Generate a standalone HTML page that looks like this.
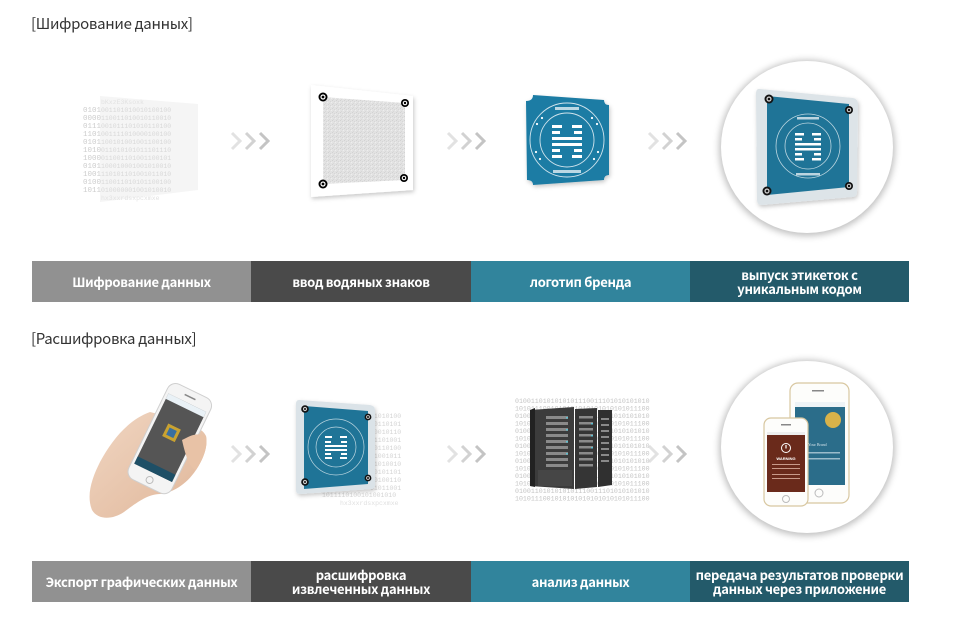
<!DOCTYPE html>
<html><head><meta charset="utf-8">
<style>
html,body{margin:0;padding:0;background:#fff;}
body{width:960px;height:619px;position:relative;overflow:hidden;font-family:"Noto Sans CJK KR","Liberation Sans",sans-serif;}
.t{position:absolute;left:31px;font-size:15px;color:#333;letter-spacing:-0.3px;}
.bar{position:absolute;height:41px;color:#fff;font-weight:bold;font-size:13px;display:flex;align-items:center;justify-content:center;text-align:center;letter-spacing:-0.3px;}
.bar span{display:block;line-height:13.5px;}
.circ{position:absolute;width:172px;height:172px;border-radius:50%;background:#fff;box-shadow:0 1px 7px 2px rgba(0,0,0,.25);}
svg{position:absolute;left:0;top:0;}
</style></head><body>
<div class="t" style="top:13px">[Шифрование данных]</div>
<div class="t" style="top:328px">[Расшифровка данных]</div>

<div class="circ" style="left:721px;top:61px"></div>
<div class="circ" style="left:721px;top:361px"></div>

<svg width="960" height="619" viewBox="0 0 960 619" xmlns="http://www.w3.org/2000/svg">
<defs>
<filter id="sh" x="-20%" y="-20%" width="140%" height="140%"><feDropShadow dx="1" dy="2" stdDeviation="2" flood-color="#000" flood-opacity="0.22"/></filter>
<pattern id="noise" width="4" height="4" patternUnits="userSpaceOnUse"><rect width="4" height="4" fill="#e2e2e2"/><rect x="0" y="0" width="1" height="1" fill="#d2d2d2"/><rect x="2" y="1" width="1" height="1" fill="#d6d6d6"/><rect x="1" y="3" width="1" height="1" fill="#d8d8d8"/><rect x="3" y="2" width="1" height="1" fill="#eeeeee"/></pattern>
<linearGradient id="skin" x1="0" y1="0" x2="1" y2="1"><stop offset="0" stop-color="#f0d6c2"/><stop offset="1" stop-color="#e0b699"/></linearGradient>
</defs>

<!-- chevrons -->
<g fill="none" stroke-width="3" stroke-linecap="butt">
<g transform="translate(232,133)"><polyline points="0,0 8,8 0,16" stroke="#e2e2e2"/><polyline points="14,0 22,8 14,16" stroke="#d2d2d2"/><polyline points="28,0 36,8 28,16" stroke="#c4c4c4"/></g>
<g transform="translate(448,133)"><polyline points="0,0 8,8 0,16" stroke="#e2e2e2"/><polyline points="14,0 22,8 14,16" stroke="#d2d2d2"/><polyline points="28,0 36,8 28,16" stroke="#c4c4c4"/></g>
<g transform="translate(649,133)"><polyline points="0,0 8,8 0,16" stroke="#e2e2e2"/><polyline points="14,0 22,8 14,16" stroke="#d2d2d2"/><polyline points="28,0 36,8 28,16" stroke="#c4c4c4"/></g>
<g transform="translate(232,446)"><polyline points="0,0 8,8 0,16" stroke="#e2e2e2"/><polyline points="14,0 22,8 14,16" stroke="#d2d2d2"/><polyline points="28,0 36,8 28,16" stroke="#c4c4c4"/></g>
<g transform="translate(448,446)"><polyline points="0,0 8,8 0,16" stroke="#e2e2e2"/><polyline points="14,0 22,8 14,16" stroke="#d2d2d2"/><polyline points="28,0 36,8 28,16" stroke="#c4c4c4"/></g>
<g transform="translate(649,446)"><polyline points="0,0 8,8 0,16" stroke="#e2e2e2"/><polyline points="14,0 22,8 14,16" stroke="#d2d2d2"/><polyline points="28,0 36,8 28,16" stroke="#c4c4c4"/></g>
</g>

<!-- row1: binary panel -->
<g font-family="Liberation Mono, monospace" font-size="7.5" fill="#cdcdcd">
<polygon points="100,96 198,104 198,190 100,202" fill="#f5f5f5"/>
<text x="83" y="112">0101</text><text x="83" y="120">0000</text><text x="83" y="128">0111</text><text x="83" y="136">1101</text><text x="83" y="144">0101</text><text x="83" y="152">1010</text><text x="83" y="160">1000</text><text x="83" y="168">0101</text><text x="83" y="176">1001</text><text x="83" y="184">0100</text><text x="83" y="192">1011</text>
<g fill="#d8d8d8" font-size="6.5">
<text x="101" y="112">001101010010100100</text><text x="101" y="120">110011010010110010</text><text x="101" y="128">001011101010110100</text><text x="101" y="136">001111010000100100</text><text x="101" y="144">100101001001100100</text><text x="101" y="152">011010101011101110</text><text x="101" y="160">011001101001100101</text><text x="101" y="168">100010001001010010</text><text x="101" y="176">110101101001011010</text><text x="101" y="184">110011010101100100</text><text x="101" y="192">010000001001010010</text><text x="101" y="200" fill="#e2e2e2">hx3xxrdsxpcxmxe</text><text x="101" y="104" fill="#e2e2e2">bKxzE3Ksoxk</text>
</g>
</g>

<!-- row1: watermark card -->
<g filter="url(#sh)">
<polygon points="311,85 413,96 413,190 311,197" fill="#fff"/>
</g>
<polygon points="323,97 405,103 405,180 323,184" fill="url(#noise)"/>
<g fill="#000">
<circle cx="323" cy="97" r="4.5"/><circle cx="405" cy="103" r="4"/><circle cx="323" cy="184" r="4.5"/><circle cx="404" cy="178" r="4"/>
</g>
<g fill="#fff"><circle cx="323" cy="97" r="2.6"/><circle cx="405" cy="103" r="2.3"/><circle cx="323" cy="184" r="2.6"/><circle cx="404" cy="178" r="2.3"/></g>
<g fill="#000"><circle cx="323" cy="97" r="1.4"/><circle cx="405" cy="103" r="1.2"/><circle cx="323" cy="184" r="1.4"/><circle cx="404" cy="178" r="1.2"/></g>

<!-- row1: blue badge -->
<g filter="url(#sh)">
<path d="M533,95 L604,100 Q604,105 609,105 L609,175 Q604,175 604,180 L533,185 Q533,180 527,180 L526,101 Q533,101 533,95 Z" fill="#1c7ca4"/>
</g>
<g transform="translate(567,140)" fill="none" stroke="#cfe3ec" stroke-width="0.9">
<circle r="37"/><circle r="27"/>
<g fill="#fff" stroke="none">
<rect x="-15" y="-15" width="10" height="3"/><rect x="5" y="-15" width="10" height="3"/>
<rect x="-15" y="-9" width="8" height="3"/><rect x="7" y="-9" width="8" height="3"/>
<rect x="-15" y="-3" width="30" height="3"/><rect x="-15" y="3" width="30" height="3"/>
<rect x="-15" y="9" width="8" height="3"/><rect x="7" y="9" width="8" height="3"/>
<rect x="-15" y="15" width="10" height="3"/><rect x="5" y="15" width="10" height="3"/>
<circle cx="-30" cy="-16" r="1.1"/><circle cx="-25" cy="-22" r="1.1"/><circle cx="25" cy="-22" r="1.1"/><circle cx="30" cy="-16" r="1.1"/>
<circle cx="-31" cy="12" r="1.1"/><circle cx="-27" cy="19" r="1.1"/><circle cx="27" cy="19" r="1.1"/><circle cx="31" cy="12" r="1.1"/>
<rect x="-12" y="-33" width="24" height="3" opacity=".7"/><rect x="-14" y="30" width="28" height="3" opacity=".7"/>
</g>
</g>

<!-- row1: circle card -->
<g filter="url(#sh)">
<path d="M760,89 L853,98 Q858,99 858,104 L857,192 Q857,197 852,197 L762,205 Q757,205 757,200 L756,94 Q756,88 760,89 Z" fill="#dde4e8"/>
</g>
<polygon points="767,96 849,104 849,187 767,195" fill="#1f7497"/>
<g transform="translate(808,146)" fill="none" stroke="#bcd6e0" stroke-width="0.8">
<circle r="32"/><circle r="23"/>
<g fill="#fff" stroke="none">
<rect x="-13" y="-13" width="9" height="2.5"/><rect x="4" y="-13" width="9" height="2.5"/>
<rect x="-13" y="-8" width="7" height="2.5"/><rect x="6" y="-8" width="7" height="2.5"/>
<rect x="-13" y="-3" width="26" height="2.5"/><rect x="-13" y="2" width="26" height="2.5"/>
<rect x="-13" y="7" width="7" height="2.5"/><rect x="6" y="7" width="7" height="2.5"/>
<rect x="-13" y="12" width="9" height="2.5"/><rect x="4" y="12" width="9" height="2.5"/>
<rect x="-11" y="-29" width="22" height="2.5" opacity=".7"/><rect x="-12" y="27" width="24" height="2.5" opacity=".7"/>
</g>
</g>
<g fill="#111"><circle cx="769" cy="99" r="4.5"/><circle cx="849" cy="110" r="4"/><circle cx="767" cy="191" r="4.5"/><circle cx="849" cy="186" r="4"/></g>
<g fill="#ccc"><circle cx="769" cy="99" r="2.6"/><circle cx="849" cy="110" r="2.3"/><circle cx="767" cy="191" r="2.6"/><circle cx="849" cy="186" r="2.3"/></g>
<g fill="#111"><circle cx="769" cy="99" r="1.3"/><circle cx="849" cy="110" r="1.2"/><circle cx="767" cy="191" r="1.3"/><circle cx="849" cy="186" r="1.2"/></g>

<!-- row2: hand + phone -->
<path d="M150,412 C128,420 112,440 100,462 C92,478 86,495 92,510 C98,520 112,520 124,512 C136,503 148,494 160,494 C172,493 186,485 196,470 C204,458 208,446 206,436 C202,428 196,428 190,432 L182,420 Z" fill="url(#skin)"/>
<g transform="rotate(26 168 440)">
<rect x="145" y="385" width="48" height="106" rx="9" fill="#f4f4f4" stroke="#cfcfcf" stroke-width="1"/>
<rect x="148" y="398" width="42" height="78" fill="#555"/>
<rect x="148" y="398" width="42" height="6" fill="#e9f1f6"/>
<rect x="148" y="468" width="42" height="8" fill="#1e4f66"/>
<rect x="161" y="425" width="14" height="14" fill="#c9a230"/>
<rect x="164" y="428" width="8" height="8" fill="#3a6fa0"/>
<circle cx="169" cy="484" r="3.5" fill="none" stroke="#bbb"/>
<rect x="163" y="391" width="12" height="1.5" fill="#888"/>
</g>
<path d="M182,440 C190,436 196,432 206,436 C208,446 204,458 196,470 C190,468 186,458 182,440 Z" fill="#e8c2a6"/>

<!-- row2: card + binary -->
<g font-family="Liberation Mono, monospace" font-size="6.5" fill="#d4d4d4">
<text x="370" y="418">11010100</text><text x="370" y="426">00110101</text><text x="370" y="434">10010110</text><text x="370" y="442">01101001</text><text x="370" y="450">10110100</text><text x="370" y="458">01001011</text><text x="370" y="466">11010010</text><text x="370" y="474">00101101</text><text x="370" y="482">10100110</text><text x="370" y="490">01011001</text>
<text x="322" y="497">1011110100101001010</text><text x="340" y="505" fill="#e0e0e0">hx3xxrdsxpcxmxe</text>
</g>
<g filter="url(#sh)">
<path d="M299,400 L370,405 Q375,406 375,410 L375,485 Q375,489 371,489 L300,494 Q296,494 296,490 L296,404 Q296,400 299,400 Z" fill="#dbe3e8"/>
</g>
<polygon points="304,406 368,411 368,484 304,489" fill="#1f7497"/>
<g transform="translate(336,447)" fill="none" stroke="#bcd6e0" stroke-width="0.7">
<circle r="28"/><circle r="20"/>
<g fill="#fff" stroke="none">
<rect x="-11" y="-11" width="7" height="2"/><rect x="4" y="-11" width="7" height="2"/>
<rect x="-11" y="-6" width="6" height="2"/><rect x="5" y="-6" width="6" height="2"/>
<rect x="-11" y="-2" width="22" height="2"/><rect x="-11" y="2" width="22" height="2"/>
<rect x="-11" y="6" width="6" height="2"/><rect x="5" y="6" width="6" height="2"/>
<rect x="-11" y="10" width="7" height="2"/><rect x="4" y="10" width="7" height="2"/>
</g>
</g>
<g fill="#111"><circle cx="305" cy="409" r="3.8"/><circle cx="368" cy="417" r="3.4"/><circle cx="305" cy="482" r="3.8"/><circle cx="368" cy="478" r="3.4"/></g>
<g fill="#ccc"><circle cx="305" cy="409" r="2.1"/><circle cx="368" cy="417" r="1.9"/><circle cx="305" cy="482" r="2.1"/><circle cx="368" cy="478" r="1.9"/></g>
<g fill="#111"><circle cx="305" cy="409" r="1"/><circle cx="368" cy="417" r="1"/><circle cx="305" cy="482" r="1"/><circle cx="368" cy="478" r="1"/></g>

<!-- row2: server -->
<g font-family="Liberation Mono, monospace" font-size="6.6" fill="#c4c4c4">
<text x="515" y="403">0100110101010101110011101010101010</text>
<text x="515" y="410.5">1010111001010101010101010101011100</text>
<text x="515" y="418">0100110101010101110011101010101010</text>
<text x="515" y="425.5">1010111001010101010101010101011100</text>
<text x="515" y="433">0100110101010101110011101010101010</text>
<text x="515" y="440.5">1010111001010101010101010101011100</text>
<text x="515" y="448">0100110101010101110011101010101010</text>
<text x="515" y="455.5">1010111001010101010101010101011100</text>
<text x="515" y="463">0100110101010101110011101010101010</text>
<text x="515" y="470.5">1010111001010101010101010101011100</text>
<text x="515" y="478">0100110101010101110011101010101010</text>
<text x="515" y="485.5">1010111001010101010101010101011100</text>
<text x="515" y="493">0100110101010101110011101010101010</text>
<text x="515" y="500.5">1010111001010101010101010101011100</text>
</g>
<polygon points="530,410 574,407 574,489 530,486" fill="#3c3c3c"/>
<polygon points="530,410 535,408 535,487 530,486" fill="#222"/>
<polygon points="575,409 597,408 597,487 575,489" fill="#353535"/>
<polygon points="598,410 612,410 612,485 598,487" fill="#303030"/>
<g fill="#8a8a8a">
<rect x="546" y="416" width="22" height="3"/><rect x="546" y="422" width="22" height="3"/><rect x="546" y="428" width="22" height="3"/><rect x="546" y="434" width="22" height="3"/><rect x="546" y="440" width="22" height="3"/><rect x="546" y="446" width="22" height="3"/><rect x="546" y="452" width="22" height="3"/><rect x="546" y="458" width="22" height="3"/><rect x="546" y="464" width="22" height="3"/>
<rect x="579" y="416" width="14" height="2.5"/><rect x="579" y="422" width="14" height="2.5"/><rect x="579" y="428" width="14" height="2.5"/><rect x="579" y="434" width="14" height="2.5"/><rect x="579" y="440" width="14" height="2.5"/><rect x="579" y="446" width="14" height="2.5"/><rect x="579" y="452" width="14" height="2.5"/><rect x="579" y="458" width="14" height="2.5"/><rect x="579" y="464" width="14" height="2.5"/>
<rect x="601" y="418" width="8" height="2"/><rect x="601" y="424" width="8" height="2"/><rect x="601" y="430" width="8" height="2"/><rect x="601" y="436" width="8" height="2"/><rect x="601" y="442" width="8" height="2"/><rect x="601" y="448" width="8" height="2"/><rect x="601" y="454" width="8" height="2"/><rect x="601" y="460" width="8" height="2"/>
</g>
<g fill="#5fc0d0"><rect x="566" y="417" width="2" height="1.5"/><rect x="566" y="429" width="2" height="1.5"/><rect x="566" y="441" width="2" height="1.5"/><rect x="566" y="453" width="2" height="1.5"/><rect x="591" y="423" width="2" height="1.5"/><rect x="591" y="435" width="2" height="1.5"/><rect x="591" y="447" width="2" height="1.5"/></g>
<rect x="538" y="470" width="34" height="16" fill="#464646"/>

<!-- row2: phones in circle -->
<rect x="790" y="383" width="59" height="120" rx="8" fill="#fdfdfb" stroke="#d8c7a0" stroke-width="1.2"/>
<rect x="795" y="402" width="50" height="83" fill="#2b6d8a"/>
<rect x="795" y="402" width="50" height="5" fill="#eef3f6"/>
<circle cx="833" cy="420" r="8" fill="#d8b24a"/>
<g fill="#cfe0e8" font-size="4" font-family="Liberation Serif, serif"><text x="808" y="446">Your Brand</text></g>
<rect x="800" y="452" width="40" height="1.5" fill="#9bbccb"/><rect x="800" y="458" width="40" height="1.5" fill="#9bbccb"/>
<circle cx="819" cy="493" r="4" fill="none" stroke="#bbb"/>
<rect x="812" y="390" width="12" height="1.5" fill="#888"/>
<rect x="764" y="418" width="44" height="88" rx="7" fill="#fdfdfb" stroke="#d8c7a0" stroke-width="1.2"/>
<rect x="767" y="435" width="38" height="57" fill="#6a2a1b"/>
<rect x="767" y="432" width="38" height="3" fill="#eee"/>
<circle cx="786" cy="448" r="4.5" fill="none" stroke="#fff" stroke-width="1"/>
<rect x="785.4" y="445" width="1.2" height="3.5" fill="#fff"/>
<text x="786" y="460" font-size="4" font-weight="bold" fill="#fff" text-anchor="middle" font-family="Liberation Sans, sans-serif">WARNING</text>
<rect x="772" y="464" width="28" height="1" fill="#c89a8a"/><rect x="772" y="468" width="28" height="1" fill="#c89a8a"/><rect x="772" y="474" width="28" height="1" fill="#c89a8a"/><rect x="772" y="478" width="28" height="1" fill="#c89a8a"/>
<circle cx="786" cy="499" r="3.5" fill="none" stroke="#bbb"/>
<rect x="781" y="424" width="10" height="1.5" fill="#888"/>
</svg>

<div class="bar" style="left:32px;top:261px;width:219px;background:#919191"><span>Шифрование данных</span></div>
<div class="bar" style="left:251px;top:261px;width:220px;background:#4a4a4a"><span>ввод водяных знаков</span></div>
<div class="bar" style="left:471px;top:261px;width:219px;background:#31849c"><span>логотип бренда</span></div>
<div class="bar" style="left:690px;top:261px;width:219px;background:#235a6a"><span>выпуск этикеток с<br>уникальным кодом</span></div>

<div class="bar" style="left:32px;top:561px;width:219px;background:#919191"><span>Экспорт графических данных</span></div>
<div class="bar" style="left:251px;top:561px;width:220px;background:#4a4a4a"><span>расшифровка<br>извлеченных данных</span></div>
<div class="bar" style="left:471px;top:561px;width:219px;background:#31849c"><span>анализ данных</span></div>
<div class="bar" style="left:690px;top:561px;width:219px;background:#235a6a"><span>передача результатов проверки<br>данных через приложение</span></div>
</body></html>
